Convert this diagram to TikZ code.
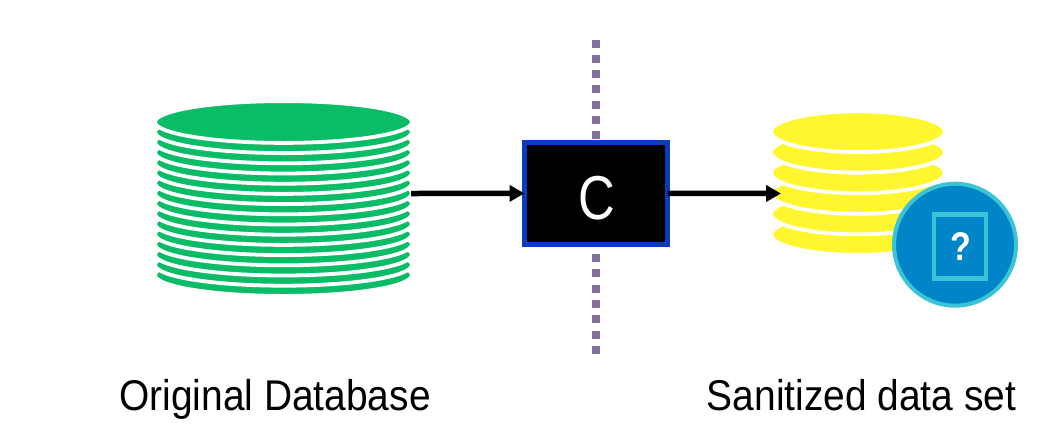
\documentclass[tikz,border=0pt]{standalone}
\usepackage{fontspec}
\setmainfont{Liberation Sans}
\usetikzlibrary{shapes.geometric,arrows.meta}
\definecolor{dbgreen}{HTML}{0ABC66}
\definecolor{dbyellow}{HTML}{FFF62E}
\definecolor{sepline}{HTML}{83709D}
\definecolor{boxblue}{HTML}{0A3CC0}
\definecolor{badgeblue}{HTML}{0085C8}
\definecolor{badgeteal}{HTML}{3CC4D6}
\tikzset{
  x=1pt,y=-1pt,
  greendisc/.style={ellipse,fill=dbgreen,draw=white,line width=3.8pt,minimum width=256.8pt,minimum height=41.8pt,inner sep=0pt},
  yellowdisc/.style={ellipse,fill=dbyellow,draw=white,line width=3.8pt,minimum width=173.8pt,minimum height=40.8pt,inner sep=0pt},
  flow/.style={line width=5.5pt,-{Triangle[length=15pt,width=16pt]}},
  captiontext/.style={font=\fontsize{43}{48}\selectfont,anchor=base,inner sep=0pt,xscale=.905},
}
\begin{document}
\begin{tikzpicture}
\useasboundingbox (0,0) rectangle (1059,445);
\foreach \i in {15,14,...,0}
  \node[greendisc] (g\i) at (283.5,{122+10.2*\i}) {};
\foreach \i in {5,4,...,0}
  \node[yellowdisc] (y\i) at (858,{131.7+20.56*\i}) {};
\coordinate (septop) at (596,39.5);
\coordinate (sepbot) at (596,355.7);
\draw[sepline,line width=8pt,dash pattern=on 8pt off 7.33pt] (septop) -- (sepbot);
\node[draw=boxblue,fill=black,line width=5pt,minimum width=143pt,minimum height=102pt,inner sep=0pt,outer sep=0pt] (box) at (596,193.4) {};
\node[text=white,inner sep=0pt,xscale=.82,font=\fontsize{62}{62}\selectfont] (c) at (596.5,198) {C};
\coordinate (dbout) at (411,193.5);
\coordinate (yin) at (781,193.5);
\draw[flow] (dbout) -- (box.west);
\draw[flow] (box.east) -- (yin);
\node[circle,fill=badgeblue,draw=badgeteal,line width=4pt,minimum size=122pt,inner sep=0pt] (badge) at (955,244.7) {};
\node[draw=badgeteal,line width=4.5pt,minimum width=52pt,minimum height=64pt,inner sep=0pt] (doc) at (960,246.7) {};
\node[text=white,inner sep=0pt,xscale=.85,font=\fontsize{40}{40}\selectfont\bfseries] (q) at (960.5,247) {?};
\node[captiontext] (orig) at (275,410.5) {Original Database};
\node[captiontext] (san) at (861.5,410.5) {Sanitized data set};
\end{tikzpicture}
\end{document}
